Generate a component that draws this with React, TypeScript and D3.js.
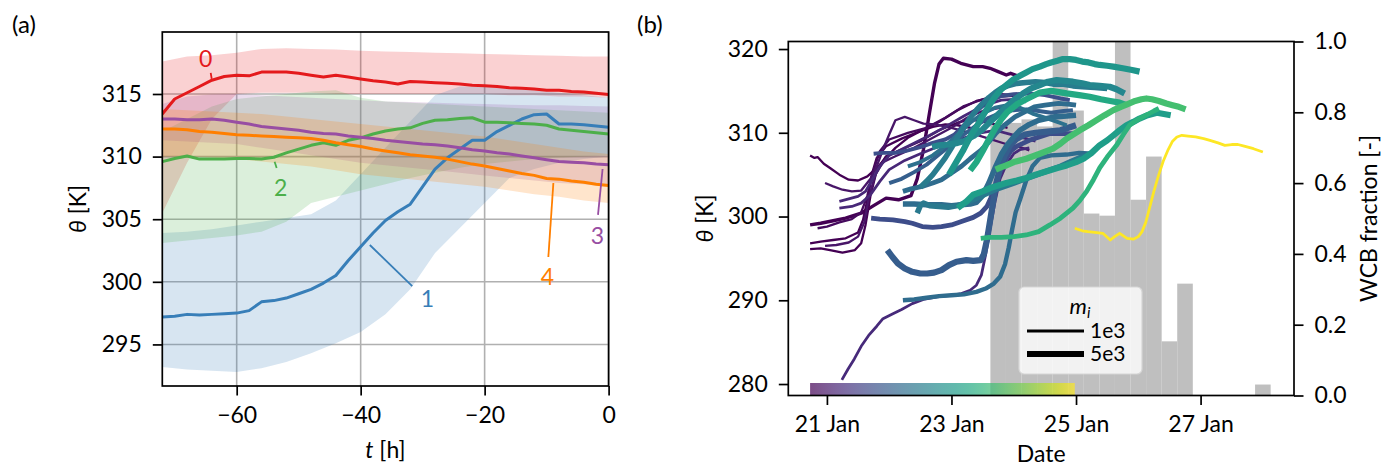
import React, { useEffect, useRef } from 'react';
import * as d3 from 'd3';

const W = 1386;
const H = 468;
const FONT = 'Lato, "DejaVu Sans", sans-serif';
const FS = 23;

// ---------------- panel (a): cluster mean theta and spread ----------------
const lineHours = [
  -72, -70, -68, -66, -64, -62, -60, -58, -56, -54, -52, -50, -48, -46, -44, -42, -40, -38, -36,
  -34, -32, -30, -28, -26, -24, -22, -20, -18, -16, -14, -12, -10, -8, -6, -4, -2, 0,
];
const mean0 = [
  313.4, 314.6, 315.1, 315.6, 316.1, 316.4, 316.5, 316.45, 316.75, 316.75, 316.75, 316.65, 316.5,
  316.35, 316.5, 316.35, 316.2, 316.05, 315.95, 315.8, 316.0, 315.95, 315.9, 315.85, 315.8, 315.7,
  315.65, 315.6, 315.5, 315.45, 315.4, 315.3, 315.3, 315.2, 315.15, 315.05, 314.95,
];
const mean1 = [
  297.2, 297.25, 297.4, 297.35, 297.4, 297.45, 297.5, 297.7, 298.4, 298.5, 298.7, 299.05, 299.4,
  299.9, 300.5, 301.7, 302.8, 303.9, 304.9, 305.6, 306.2, 307.6, 309.0, 309.9, 310.6, 311.3, 311.3,
  312.0, 312.5, 313.0, 313.35, 313.4, 312.6, 312.6, 312.55, 312.45, 312.35,
];
const mean2 = [
  309.6, 309.85, 310.05, 309.8, 309.8, 309.8, 309.85, 309.85, 309.8, 309.95, 310.3, 310.6, 310.9,
  311.1, 310.9, 311.3, 311.5, 311.8, 312.05, 312.2, 312.3, 312.65, 312.9, 312.95, 313.05, 313.1,
  312.75, 312.75, 312.7, 312.65, 312.6, 312.5, 312.2, 312.1, 312.0, 311.9, 311.8,
];
const mean3 = [
  313.0, 313.0, 312.95, 312.95, 313.0, 312.9, 312.75, 312.6, 312.4, 312.3, 312.2, 312.1, 311.95,
  311.85, 311.8, 311.65, 311.55, 311.45, 311.3, 311.2, 311.1, 311.0, 310.95, 310.85, 310.7, 310.55,
  310.45, 310.3, 310.2, 310.05, 309.9, 309.75, 309.6, 309.55, 309.5, 309.4, 309.35,
];
const mean4 = [
  312.2, 312.2, 312.15, 312.0, 311.95, 311.85, 311.75, 311.7, 311.65, 311.6, 311.55, 311.5, 311.45,
  311.3, 311.1, 310.95, 310.8, 310.6, 310.45, 310.3, 310.15, 310.05, 309.95, 309.8, 309.6, 309.4,
  309.25, 309.05, 308.85, 308.65, 308.5, 308.25, 308.2, 308.05, 307.95, 307.8, 307.7,
];

const bandHours = [-72, -68, -64, -60, -56, -52, -48, -44, -40, -36, -32, -28, -24, -20, -16, -12, -8, -4, 0];
const lo0 = [305.5, 309.5, 313.0, 315.0, 315.1, 315.1, 315.1, 315.0, 315.0, 315.0, 315.0, 315.0, 315.0, 315.0, 314.9, 314.9, 314.8, 314.8, 314.7];
const hi0 = [317.6, 318.0, 318.1, 318.3, 318.6, 318.65, 318.6, 318.55, 318.45, 318.4, 318.35, 318.3, 318.25, 318.2, 318.15, 318.1, 318.05, 318.0, 318.0];
const lo1 = [293.2, 293.0, 292.9, 292.8, 293.1, 293.6, 294.3, 295.1, 296.0, 297.4, 299.4, 302.3, 304.3, 306.3, 308.3, 309.0, 309.5, 309.8, 310.0];
const hi1 = [303.9, 304.0, 304.2, 304.5, 304.8, 305.1, 305.4, 306.5, 308.6, 310.7, 312.8, 314.9, 315.6, 315.6, 315.5, 315.3, 315.1, 314.9, 314.7];
const lo2 = [303.1, 303.3, 303.5, 303.7, 304.0, 304.8, 306.3, 306.8, 307.3, 307.8, 308.3, 308.7, 309.1, 309.4, 309.6, 309.8, 309.9, 310.0, 310.1];
const hi2 = [312.0, 313.0, 314.0, 314.6, 314.8, 315.0, 315.2, 315.3, 314.7, 314.4, 314.3, 314.2, 314.1, 314.0, 313.9, 313.8, 313.7, 313.6, 313.5];
const lo3 = [311.3, 311.2, 311.1, 311.0, 310.7, 310.4, 310.1, 309.8, 309.5, 309.3, 309.1, 308.9, 308.7, 308.5, 308.3, 308.1, 307.9, 307.8, 307.6];
const hi3 = [314.2, 314.8, 314.95, 315.0, 314.9, 314.8, 314.7, 314.6, 314.5, 314.4, 314.35, 314.3, 314.25, 314.2, 314.15, 314.1, 314.1, 314.05, 314.0];
const lo4 = [310.0, 310.0, 309.9, 309.8, 309.6, 309.4, 309.2, 308.9, 308.6, 308.4, 308.2, 308.0, 307.8, 307.6, 307.3, 307.0, 306.8, 306.5, 306.3];
const hi4 = [313.8, 313.7, 313.6, 313.5, 313.4, 313.2, 313.0, 312.8, 312.6, 312.4, 312.2, 312.0, 311.8, 311.6, 311.3, 311.0, 310.7, 310.4, 310.2];

const clusterColors = ['#e41a1c', '#377eb8', '#4daf4a', '#984ea3', '#ff7f00'];
const clusterMeans = [mean0, mean1, mean2, mean3, mean4];
const clusterLo = [lo0, lo1, lo2, lo3, lo4];
const clusterHi = [hi0, hi1, hi2, hi3, hi4];

// cluster number labels and their connector segments (data units)
const labelText = ['0', '1', '2', '3', '4'];
const labelT = [-65.0, -29.23, -52.9, -1.82, -9.88];
const labelTheta = [317.8, 298.63, 307.49, 303.66, 300.38];
const connFromT = [-64.19, -31.68, -53.55, -1.71, -9.72];
const connFromTheta = [316.68, 299.66, 309.09, 305.34, 301.98];
const connToT = [-64.03, -38.52, -53.88, -0.97, -8.91];
const connToTheta = [316.2, 302.94, 309.59, 309.01, 307.89];

const aXTicks = [-60, -40, -20, 0];
const aYTicks = [295, 300, 305, 310, 315];

// ---------------- panel (b): trajectories and WCB fraction ----------------
// [day of January, theta]
const trajMass = [
  700, 700, 1500, 700, 700, 700, 700, 1000, 1000, 1000,
  3000, 2000, 5000, 2500, 4000, 3000, 4000, 2000, 2000,
  5000, 5000, 4000, 5000, 5000, 5000, 3000, 1000,
];
const trajPoints: [number, number][][] = [
  [[20.73, 307.3], [20.8, 307.0], [20.85, 307.1], [20.95, 306.3], [21.05, 305.8], [21.2, 305.0], [21.35, 304.4], [21.5, 304.3], [21.65, 304.8], [21.8, 305.8], [21.95, 307.0], [22.1, 308.2], [22.3, 309.4], [22.5, 310.2], [22.7, 310.7], [22.9, 311.0], [23.1, 310.9], [23.3, 310.6], [23.5, 310.2]],
  [[20.97, 304.0], [21.1, 303.6], [21.25, 303.2], [21.4, 303.0], [21.55, 303.1], [21.7, 304.5], [21.8, 306.0], [21.9, 308.0], [22.0, 309.8], [22.1, 311.5], [22.25, 311.9], [22.4, 311.5], [22.55, 311.1], [22.75, 311.0], [23.0, 310.6], [23.3, 310.0], [23.6, 309.3], [23.9, 308.6], [24.1, 308.3], [24.25, 307.9]],
  [[20.73, 299.0], [20.9, 299.2], [21.1, 299.5], [21.3, 299.8], [21.55, 300.4], [21.75, 301.3], [21.95, 302.2], [22.15, 302.0], [22.35, 302.5], [22.45, 304.5], [22.55, 308.0], [22.65, 312.5], [22.73, 316.0], [22.8, 318.2], [22.87, 318.9], [23.0, 318.8], [23.15, 318.3], [23.35, 317.9], [23.5, 317.9], [23.62, 317.7], [23.75, 317.3], [23.88, 316.9], [23.95, 317.1], [24.1, 316.7]],
  [[20.73, 296.8], [20.9, 297.0], [21.1, 297.2], [21.3, 297.4], [21.5, 298.1], [21.58, 299.6], [21.65, 302.0], [21.72, 305.0], [21.8, 307.0], [21.95, 308.4], [22.2, 309.3], [22.5, 310.2], [22.8, 311.3], [23.1, 312.7], [23.4, 313.8], [23.7, 314.3], [24.0, 314.4]],
  [[20.73, 296.1], [20.9, 296.2], [21.05, 296.0], [21.25, 295.7], [21.45, 296.0], [21.55, 296.8], [21.62, 299.0], [21.7, 302.5], [21.8, 305.5], [21.95, 307.2], [22.2, 308.0], [22.5, 309.0], [22.8, 310.3], [23.1, 311.2], [23.3, 311.6], [23.6, 311.2], [23.9, 310.6]],
  [[20.97, 296.5], [21.15, 296.6], [21.35, 296.9], [21.5, 297.6], [21.6, 299.3], [21.68, 302.5], [21.78, 305.0], [21.9, 306.5], [22.1, 307.2], [22.4, 308.2], [22.7, 309.4], [23.0, 310.6], [23.25, 311.8], [23.5, 312.6], [23.8, 313.0]],
  [[20.85, 298.6], [21.0, 298.8], [21.2, 299.3], [21.4, 299.7], [21.55, 300.5], [21.65, 302.5], [21.75, 305.5], [21.85, 307.8], [22.0, 309.2], [22.3, 310.0], [22.6, 310.6], [22.9, 311.8], [23.2, 313.2], [23.5, 314.0], [23.8, 314.6], [24.0, 314.5]],
  [[21.2, 301.8], [21.35, 302.1], [21.5, 302.4], [21.62, 303.0], [21.72, 304.3], [21.85, 306.0], [22.0, 307.3], [22.3, 308.4], [22.6, 309.5], [22.9, 310.7], [23.2, 312.0], [23.5, 313.2], [23.8, 313.9], [24.0, 314.0], [24.2, 313.7]],
  [[21.2, 301.0], [21.4, 301.2], [21.55, 301.6], [21.7, 302.6], [21.85, 304.2], [22.0, 305.6], [22.25, 306.7], [22.5, 307.5], [22.8, 308.4], [23.1, 309.1], [23.4, 309.9], [23.7, 310.3], [23.95, 309.8], [24.2, 309.3], [24.35, 309.0]],
  [[21.24, 280.5], [21.34, 281.8], [21.44, 283.0], [21.55, 284.5], [21.67, 285.8], [21.8, 286.9], [21.9, 287.8], [22.06, 288.4], [22.2, 288.9], [22.37, 289.6], [22.55, 290.1], [22.77, 290.4], [23.0, 290.6], [23.16, 290.8], [23.3, 291.2], [23.4, 291.8], [23.48, 293.0], [23.55, 295.5], [23.62, 298.5], [23.7, 301.8], [23.78, 304.5], [23.88, 306.2], [24.0, 307.5], [24.1, 308.0], [24.25, 308.2]],
  [[21.71, 299.8], [21.85, 299.7], [22.06, 299.6], [22.25, 299.4], [22.37, 299.2], [22.53, 298.8], [22.7, 298.7], [22.84, 298.8], [23.0, 299.0], [23.16, 299.4], [23.35, 299.9], [23.47, 300.4], [23.57, 301.2], [23.63, 302.2], [23.7, 303.6], [23.78, 305.3], [23.86, 306.7], [23.95, 307.8], [24.05, 308.4], [24.25, 309.1], [24.57, 309.9], [24.8, 309.9], [25.0, 309.9]],
  [[21.75, 307.5], [21.9, 307.6], [22.1, 307.6], [22.3, 307.9], [22.5, 308.3], [22.7, 308.8], [22.9, 309.2], [23.05, 309.8], [23.2, 310.9], [23.35, 312.2], [23.5, 313.2], [23.65, 313.9], [23.8, 314.4], [24.0, 314.6], [24.25, 314.7], [24.5, 314.5], [24.75, 314.1], [24.9, 313.9]],
  [[21.97, 296.0], [22.05, 295.2], [22.14, 294.4], [22.25, 293.8], [22.37, 293.4], [22.5, 293.2], [22.61, 293.2], [22.72, 293.3], [22.84, 293.6], [22.96, 294.2], [23.08, 294.6], [23.24, 294.8], [23.35, 294.7], [23.47, 294.8], [23.52, 295.5], [23.57, 297.2], [23.62, 299.5], [23.67, 301.8], [23.72, 304.0], [23.78, 305.8], [23.85, 307.2], [23.94, 308.5], [24.05, 309.3], [24.18, 309.8], [24.35, 310.0], [24.5, 310.1], [24.75, 310.3], [25.0, 310.9]],
  [[22.22, 290.0], [22.4, 290.1], [22.6, 290.3], [22.8, 290.5], [23.0, 290.6], [23.2, 290.7], [23.4, 291.0], [23.55, 291.4], [23.68, 292.0], [23.78, 292.8], [23.86, 294.3], [23.92, 296.3], [23.97, 298.3], [24.03, 300.5], [24.1, 302.0], [24.2, 304.3], [24.3, 306.0], [24.42, 307.0], [24.6, 307.3], [24.85, 307.4], [25.05, 307.6], [25.27, 307.5]],
  [[22.22, 301.5], [22.4, 301.5], [22.6, 301.4], [22.84, 301.4], [23.0, 301.3], [23.16, 301.4], [23.3, 301.5], [23.4, 301.7], [23.5, 302.5], [23.6, 304.0], [23.7, 305.8], [23.8, 307.4], [23.9, 308.6], [24.0, 309.5], [24.1, 310.3], [24.25, 311.0], [24.4, 311.5], [24.65, 311.9], [24.85, 312.0], [25.0, 312.1]],
  [[22.22, 303.0], [22.35, 303.3], [22.53, 303.6], [22.7, 304.0], [22.84, 304.4], [23.0, 305.2], [23.16, 306.0], [23.3, 306.9], [23.47, 307.9], [23.6, 308.9], [23.71, 309.9], [23.85, 310.9], [24.02, 311.9], [24.2, 312.6], [24.33, 313.1], [24.5, 313.3], [24.72, 313.5], [24.9, 313.4], [25.0, 313.3]],
  [[22.5, 303.5], [22.6, 304.2], [22.7, 305.0], [22.8, 306.0], [22.9, 307.0], [23.0, 308.2], [23.1, 309.5], [23.2, 310.7], [23.3, 311.8], [23.4, 312.7], [23.5, 313.5], [23.6, 314.2], [23.7, 314.8], [23.8, 315.3], [23.9, 315.6], [24.05, 315.9], [24.2, 316.0], [24.35, 316.1], [24.5, 316.0], [24.65, 315.8], [24.8, 315.8], [24.95, 315.6], [25.1, 315.5], [25.3, 315.4], [25.5, 315.3]],
  [[22.0, 304.0], [22.2, 304.5], [22.4, 305.3], [22.6, 306.2], [22.8, 307.4], [23.0, 308.6], [23.2, 309.8], [23.4, 310.9], [23.6, 311.8], [23.8, 312.4], [24.0, 312.7], [24.2, 312.8], [24.4, 312.6], [24.6, 312.4], [24.8, 312.6], [24.95, 312.7]],
  [[22.3, 306.0], [22.5, 306.5], [22.7, 307.3], [22.9, 308.4], [23.1, 309.8], [23.3, 311.2], [23.5, 312.3], [23.7, 313.0], [23.9, 313.3], [24.1, 313.0], [24.3, 312.3], [24.5, 311.8], [24.7, 311.3], [24.85, 310.9]],
  [[22.96, 305.0], [23.03, 305.9], [23.1, 306.8], [23.18, 307.8], [23.25, 308.8], [23.32, 309.8], [23.4, 310.7], [23.5, 312.0], [23.6, 313.2], [23.7, 314.3], [23.8, 315.2], [23.9, 315.8], [24.0, 316.4], [24.1, 316.8], [24.2, 317.2], [24.3, 317.6], [24.42, 317.9], [24.52, 318.2], [24.6, 318.4], [24.7, 318.6], [24.79, 318.8], [24.9, 318.8], [25.0, 318.7], [25.1, 318.5], [25.2, 318.4], [25.3, 318.2], [25.38, 318.1], [25.5, 318.0], [25.6, 317.9], [25.75, 317.7], [25.9, 317.5], [26.02, 317.3]],
  [[22.69, 308.3], [22.8, 308.5], [22.95, 308.6], [23.1, 308.8], [23.2, 309.0], [23.35, 309.6], [23.5, 310.4], [23.62, 311.3], [23.75, 312.2], [23.88, 313.1], [24.0, 313.9], [24.15, 314.7], [24.28, 315.3], [24.42, 315.7], [24.55, 316.1], [24.69, 316.3], [24.82, 316.2], [24.95, 316.1], [25.1, 315.9], [25.22, 315.7], [25.38, 315.6], [25.54, 315.5], [25.65, 315.2], [25.78, 314.7]],
  [[22.45, 300.4], [22.5, 301.3], [22.55, 301.6], [22.65, 301.3], [22.8, 301.2], [22.95, 301.1], [23.1, 301.3], [23.25, 301.7], [23.4, 302.2], [23.55, 302.7], [23.7, 303.2], [23.85, 303.6], [24.0, 304.0], [24.15, 304.4], [24.3, 304.8], [24.45, 305.2], [24.6, 305.6], [24.75, 306.0], [24.9, 306.5], [25.05, 307.0], [25.2, 307.3]],
  [[23.1, 301.0], [23.17, 301.4], [23.24, 301.8], [23.35, 302.6], [23.5, 303.0], [23.62, 303.4], [23.75, 303.7], [23.88, 304.0], [24.05, 304.3], [24.2, 304.6], [24.35, 305.0], [24.53, 305.4], [24.7, 305.8], [24.85, 306.1], [25.0, 306.5], [25.12, 306.9], [25.25, 307.6], [25.38, 308.5], [25.5, 309.1], [25.6, 309.7], [25.7, 310.3], [25.81, 310.9], [25.92, 311.3], [26.02, 311.7], [26.15, 312.1], [26.3, 312.4], [26.52, 312.1]],
  [[23.3, 305.5], [23.4, 306.5], [23.5, 307.8], [23.6, 309.2], [23.7, 310.5], [23.8, 311.6], [23.9, 312.5], [24.05, 313.4], [24.2, 314.0], [24.42, 314.8], [24.6, 315.0], [24.85, 314.7], [25.05, 314.5], [25.22, 314.3], [25.4, 314.0], [25.55, 313.8], [25.7, 313.6], [25.81, 313.3]],
  [[23.71, 305.6], [23.8, 305.9], [23.88, 306.1], [24.0, 306.5], [24.2, 306.9], [24.42, 307.5], [24.63, 308.1], [24.75, 308.7], [24.85, 309.3], [25.06, 310.3], [25.2, 310.9], [25.33, 311.5], [25.46, 312.1], [25.6, 312.7], [25.72, 313.1], [25.82, 313.4], [25.95, 313.8], [26.05, 314.0], [26.13, 314.1], [26.22, 314.0], [26.33, 313.8], [26.45, 313.5], [26.55, 313.3], [26.65, 313.1], [26.76, 312.8]],
  [[23.47, 297.4], [23.6, 297.5], [23.8, 297.5], [24.0, 297.6], [24.2, 297.8], [24.4, 298.2], [24.58, 299.0], [24.75, 299.8], [24.95, 301.0], [25.06, 301.9], [25.17, 303.0], [25.28, 304.4], [25.38, 305.8], [25.5, 307.1], [25.65, 308.5], [25.76, 309.8], [25.86, 310.9], [25.95, 311.4], [26.02, 311.7], [26.15, 312.2], [26.25, 312.6], [26.33, 312.9]],
  [[24.98, 298.6], [25.1, 298.3], [25.19, 298.2], [25.3, 298.1], [25.43, 298.0], [25.55, 297.2], [25.62, 297.6], [25.7, 298.0], [25.82, 297.4], [25.92, 297.3], [26.0, 297.6], [26.06, 298.2], [26.12, 299.3], [26.18, 301.0], [26.25, 303.0], [26.32, 304.8], [26.4, 306.6], [26.48, 308.0], [26.55, 309.0], [26.62, 309.5], [26.7, 309.7], [26.8, 309.6], [26.92, 309.5], [27.05, 309.3], [27.15, 309.1], [27.28, 308.8], [27.39, 308.5], [27.5, 308.6], [27.6, 308.6], [27.7, 308.4], [27.85, 308.1], [28.0, 307.7]],
];

// WCB fraction histogram, 6-hourly bins (bin start, day of January)
const histStart = [23.625, 23.875, 24.125, 24.375, 24.625, 24.875, 25.125, 25.375, 25.625, 25.875, 26.125, 26.375, 26.625, 27.875];
const histFrac = [0.77, 0.77, 0.78, 0.76, 1.0, 0.805, 0.514, 0.508, 1.0, 0.553, 0.675, 0.153, 0.316, 0.031];
const histBinDays = 0.25;

const bXTicks = [21, 23, 25, 27];
const bYTicks = [280, 290, 300, 310, 320];
const bFracTicks = [0, 0.2, 0.4, 0.6, 0.8, 1.0];
const legendMasses = [1000, 5000];
const legendLabels = ['1e3', '5e3'];

const jan = (d: number) => new Date(Date.UTC(2016, 0, 1) + (d - 1) * 86400000);

function styleAxis(g: any) {
  g.select('.domain').remove();
  g.selectAll('line').attr('stroke', '#000').attr('stroke-width', 1.7);
  g.selectAll('text').attr('font-family', FONT).attr('font-size', FS).attr('fill', '#000');
}

function drawPanelA(svg: any) {
  const left = 162.3, right = 608.6, top = 32, bottom = 386;
  const x = d3.scaleLinear().domain([-72, 0]).range([left, right]);
  const y = d3.scaleLinear().domain([291.68, 319.95]).range([bottom, top]);
  const g = svg.append('g');

  g.append('clipPath').attr('id', 'clipA').append('rect')
    .attr('x', left).attr('y', top).attr('width', right - left).attr('height', bottom - top);

  // grid
  g.append('g').selectAll('line').data(aXTicks).join('line')
    .attr('x1', (d: number) => x(d)).attr('x2', (d: number) => x(d))
    .attr('y1', top).attr('y2', bottom)
    .attr('stroke', '#b0b0b0').attr('stroke-width', 1.6);
  g.append('g').selectAll('line').data(aYTicks).join('line')
    .attr('y1', (d: number) => y(d)).attr('y2', (d: number) => y(d))
    .attr('x1', left).attr('x2', right)
    .attr('stroke', '#b0b0b0').attr('stroke-width', 1.6);

  const plot = g.append('g').attr('clip-path', 'url(#clipA)');
  clusterColors.forEach((c, k) => {
    const lo = clusterLo[k];
    const hi = clusterHi[k];
    const bandArea = d3.area<number>()
      .x((t) => x(t))
      .y0((_t, i) => y(lo[i]))
      .y1((_t, i) => y(hi[i]));
    plot.append('path').attr('d', bandArea(bandHours)).attr('fill', c).attr('fill-opacity', 0.2);
  });
  const line = d3.line<number>().x((t) => x(t));
  clusterColors.forEach((c, k) => {
    const m = clusterMeans[k];
    plot.append('path')
      .attr('d', line.y((_t, i) => y(m[i]))(lineHours))
      .attr('fill', 'none').attr('stroke', c).attr('stroke-width', 3)
      .attr('stroke-linejoin', 'round');
  });

  // cluster labels
  labelText.forEach((s, k) => {
    g.append('line')
      .attr('x1', x(connFromT[k])).attr('y1', y(connFromTheta[k]))
      .attr('x2', x(connToT[k])).attr('y2', y(connToTheta[k]))
      .attr('stroke', clusterColors[k]).attr('stroke-width', 1.8);
    g.append('text')
      .attr('x', x(labelT[k])).attr('y', y(labelTheta[k])).attr('dy', '0.36em')
      .attr('text-anchor', 'middle').attr('font-family', FONT).attr('font-size', FS)
      .attr('fill', clusterColors[k]).text(s);
  });

  // frame
  g.append('rect').attr('x', left).attr('y', top).attr('width', right - left).attr('height', bottom - top)
    .attr('fill', 'none').attr('stroke', '#000').attr('stroke-width', 1.7);

  g.append('g').attr('transform', `translate(0,${bottom})`)
    .call(d3.axisBottom(x).tickValues(aXTicks).tickSize(9.5).tickPadding(11).tickFormat((d: any) => d3.format('d')(d).replace('-', '\u2212')))
    .call(styleAxis);
  g.append('g').attr('transform', `translate(${left},0)`)
    .call(d3.axisLeft(y).tickValues(aYTicks).tickSize(9.5).tickPadding(11).tickFormat(d3.format('d')))
    .call(styleAxis);

  g.append('text').attr('transform', `translate(78,${(top + bottom) / 2}) rotate(-90)`)
    .attr('dy', '0.35em').attr('text-anchor', 'middle')
    .attr('font-family', FONT).attr('font-size', FS)
    .call((t: any) => {
      t.append('tspan').attr('font-style', 'italic').text('\u03b8');
      t.append('tspan').text(' [K]');
    });
  g.append('text').attr('x', (left + right) / 2).attr('y', 458).attr('text-anchor', 'middle')
    .attr('font-family', FONT).attr('font-size', FS)
    .call((t: any) => {
      t.append('tspan').attr('font-style', 'italic').text('t');
      t.append('tspan').text(' [h]');
    });
  g.append('text').attr('x', 12).attr('y', 33).attr('font-family', FONT).attr('font-size', 24).text('(a)');
}

function drawPanelB(svg: any) {
  const left = 788.3, right = 1294, top = 41.5, bottom = 395.5;
  const x = d3.scaleUtc().domain([jan(20.38), jan(28.5)]).range([left, right]);
  const y = d3.scaleLinear().domain([278.63, 320.9]).range([bottom, top]);
  const yf = d3.scaleLinear().domain([0, 1]).range([bottom, top]);
  const starts = trajPoints.map((p) => p[0][0]);
  const cDomain = d3.extent(starts) as [number, number];
  const color = d3.scaleSequential(d3.interpolateViridis).domain(cDomain);
  const width = d3.scaleSqrt().domain([0, 5000]).range([0, 6.2]);
  const g = svg.append('g');

  g.append('clipPath').attr('id', 'clipB').append('rect')
    .attr('x', left).attr('y', top).attr('width', right - left).attr('height', bottom - top);
  const plot = g.append('g').attr('clip-path', 'url(#clipB)');

  // histogram
  plot.append('g').selectAll('rect').data(histStart).join('rect')
    .attr('x', (d: number) => x(jan(d)))
    .attr('width', (d: number) => x(jan(d + histBinDays)) - x(jan(d)))
    .attr('y', (_d: number, i: number) => yf(histFrac[i]))
    .attr('height', (_d: number, i: number) => bottom - yf(histFrac[i]))
    .attr('fill', '#bfbfbf');

  // trajectories, coloured by start time and sized by mass
  const line = d3.line<[number, number]>().x((d) => x(jan(d[0]))).y((d) => y(d[1]));
  const order = d3.range(trajPoints.length).sort((a, b) => starts[a] - starts[b]);
  order.forEach((i) => {
    plot.append('path').attr('d', line(trajPoints[i]))
      .attr('fill', 'none').attr('stroke', color(starts[i]))
      .attr('stroke-width', width(trajMass[i]))
      .attr('stroke-linejoin', 'round');
  });

  // start-time colour bar
  const grad = svg.append('defs').append('linearGradient').attr('id', 'viridisGrad');
  d3.range(0, 1.0001, 0.05).forEach((f) => {
    grad.append('stop').attr('offset', `${f * 100}%`).attr('stop-color', d3.interpolateViridis(f));
  });
  plot.append('rect')
    .attr('x', x(jan(cDomain[0]))).attr('width', x(jan(cDomain[1])) - x(jan(cDomain[0])))
    .attr('y', bottom - 12.5).attr('height', 12.5)
    .attr('fill', 'url(#viridisGrad)').attr('opacity', 0.7);

  // legend
  const lg = g.append('g').attr('transform', 'translate(1019,287)');
  lg.append('rect').attr('width', 123).attr('height', 87).attr('rx', 5)
    .attr('fill', '#fff').attr('fill-opacity', 0.8).attr('stroke', '#d6d6d6').attr('stroke-width', 1.2);
  lg.append('text').attr('x', 61).attr('y', 27).attr('text-anchor', 'middle')
    .attr('font-family', FONT).attr('font-size', 22)
    .call((t: any) => {
      t.append('tspan').attr('font-style', 'italic').text('m');
      t.append('tspan').attr('font-style', 'italic').attr('font-size', 15).attr('dy', 4).text('i');
    });
  legendMasses.forEach((m, k) => {
    const yy = 44 + k * 23;
    lg.append('line').attr('x1', 8).attr('x2', 65).attr('y1', yy).attr('y2', yy)
      .attr('stroke', '#000').attr('stroke-width', width(m));
    lg.append('text').attr('x', 71).attr('y', yy + 7).attr('font-family', FONT).attr('font-size', 21)
      .text(legendLabels[k]);
  });

  // frame
  g.append('rect').attr('x', left).attr('y', top).attr('width', right - left).attr('height', bottom - top)
    .attr('fill', 'none').attr('stroke', '#000').attr('stroke-width', 1.7);

  g.append('g').attr('transform', `translate(0,${bottom})`)
    .call(d3.axisBottom(x).tickValues(bXTicks.map(jan)).tickSize(9.5).tickPadding(11).tickFormat(d3.utcFormat('%-d %b') as any))
    .call(styleAxis);
  g.append('g').attr('transform', `translate(${left},0)`)
    .call(d3.axisLeft(y).tickValues(bYTicks).tickSize(9.5).tickPadding(11).tickFormat(d3.format('d')))
    .call(styleAxis);
  g.append('g').attr('transform', `translate(${right},0)`)
    .call(d3.axisRight(yf).tickValues(bFracTicks).tickSize(9.5).tickPadding(11).tickFormat(d3.format('.1f')))
    .call(styleAxis);

  g.append('text').attr('transform', `translate(705,${(top + bottom) / 2}) rotate(-90)`)
    .attr('dy', '0.35em').attr('text-anchor', 'middle')
    .attr('font-family', FONT).attr('font-size', FS)
    .call((t: any) => {
      t.append('tspan').attr('font-style', 'italic').text('\u03b8');
      t.append('tspan').text(' [K]');
    });
  g.append('text').attr('x', (left + right) / 2).attr('y', 462).attr('text-anchor', 'middle')
    .attr('font-family', FONT).attr('font-size', FS).text('Date');
  g.append('text').attr('transform', `translate(1369,${(top + bottom) / 2}) rotate(-90)`)
    .attr('dy', '0.35em').attr('text-anchor', 'middle')
    .attr('font-family', FONT).attr('font-size', FS).text('WCB fraction [-]');
  g.append('text').attr('x', 637).attr('y', 33).attr('font-family', FONT).attr('font-size', 24).text('(b)');
}

export default function App() {
  const ref = useRef<SVGSVGElement>(null);
  useEffect(() => {
    const svg = d3.select(ref.current);
    svg.selectAll('*').remove();
    drawPanelA(svg);
    drawPanelB(svg);
  }, []);
  return (
    <svg
      ref={ref}
      width={W}
      height={H}
      style={{ position: 'absolute', left: 0, top: 0, background: '#fff' }}
    />
  );
}
